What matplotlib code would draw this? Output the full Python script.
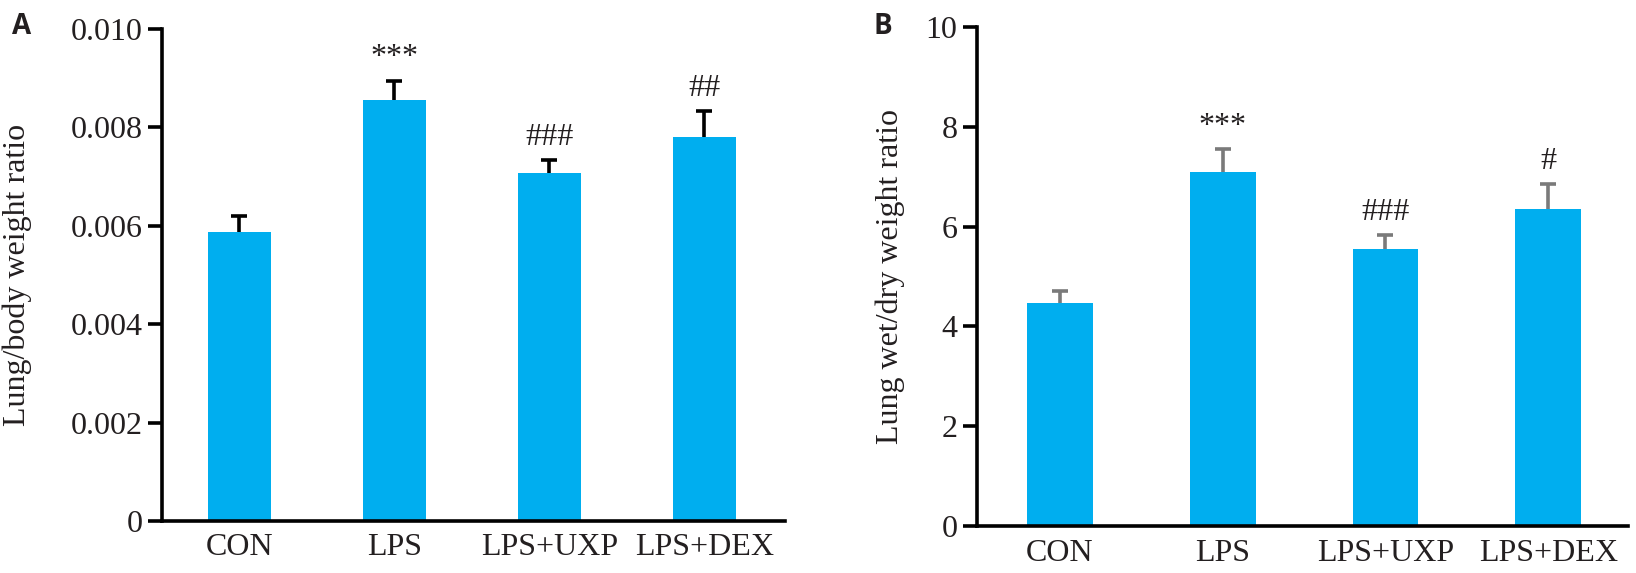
import matplotlib
matplotlib.use("Agg")
import matplotlib.pyplot as plt
import numpy as np

# data
groups = ["CON", "LPS", "LPS+UXP", "LPS+DEX"]

lung_body = [0.00587, 0.00856, 0.00707, 0.00781]
lung_body_err = [0.00032, 0.00039, 0.00027, 0.00052]
lung_body_sig = ["", "***", "###", "##"]

wet_dry = [4.47, 7.09, 5.55, 6.35]
wet_dry_err = [0.24, 0.46, 0.28, 0.50]
wet_dry_sig = ["", "***", "###", "#"]

a_ticks = [0, 0.002, 0.004, 0.006, 0.008, 0.010]
a_ticklabels = ["0", "0.002", "0.004", "0.006", "0.008", "0.010"]
b_ticks = [0, 2, 4, 6, 8, 10]

BAR = "#00aeef"
TXT = "#231f20"
SERIF = ["Liberation Serif", "DejaVu Serif"]
FS = 23

fig = plt.figure(figsize=(16.36, 5.73), dpi=100)
axA = fig.add_axes([0.0990, 0.0908, 0.3808, 0.8586])
axB = fig.add_axes([0.5972, 0.0820, 0.3979, 0.8709])


def panel(ax, vals, errs, sig, errcolor, ylim, width, xlim):
    x = np.arange(len(groups))
    ax.bar(x, vals, width=width, color=BAR, zorder=2)
    lower = np.zeros(len(vals))
    _, caps, _ = ax.errorbar(x, vals, yerr=[lower, errs], fmt="none", ecolor=errcolor,
                             elinewidth=2.6, capsize=5.5, capthick=2.6, zorder=1)
    caps[0].set_visible(False)  # only the upper cap
    for xi, v, e, s in zip(x, vals, errs, sig):
        if s:
            ax.annotate(s, (xi, v + e), xytext=(0, 6), textcoords="offset points",
                        ha="center", va="bottom", fontsize=FS, family=SERIF,
                        color=TXT)
    ax.set_xlim(*xlim)
    ax.set_ylim(*ylim)
    ax.set_xticks(x)
    ax.set_xticklabels(groups, family=SERIF, fontsize=FS, color=TXT)
    for sp in ["top", "right"]:
        ax.spines[sp].set_visible(False)
    for sp in ["left", "bottom"]:
        ax.spines[sp].set_linewidth(2.6)
        ax.spines[sp].set_color("black")
    ax.tick_params(axis="x", length=0, pad=9)
    ax.tick_params(axis="y", length=10, width=2.6, pad=4, direction="out")


panel(axA, lung_body, lung_body_err, lung_body_sig, "black", (0, 0.010), 0.41, (-0.5, 3.52))
axA.set_yticks(a_ticks)
axA.set_yticklabels(a_ticklabels, family=SERIF, fontsize=FS, color=TXT)
axA.set_ylabel("Lung/body weight ratio", family=SERIF, fontsize=FS, color=TXT)
axA.yaxis.set_label_coords(-0.208, 0.5)

panel(axB, wet_dry, wet_dry_err, wet_dry_sig, "#7a7a7a", (0, 10), 0.405, (-0.51, 3.49))
axB.set_yticks(b_ticks)
axB.set_yticklabels([str(t) for t in b_ticks], family=SERIF, fontsize=FS, color=TXT)
axB.set_ylabel("Lung wet/dry weight ratio", family=SERIF, fontsize=FS, color=TXT)
axB.yaxis.set_label_coords(-0.111, 0.5)

fig.text(12 / 1636, 1 - 12 / 573, "A", family=["Open Sans", "DejaVu Sans"],
         fontweight="bold", fontsize=20, va="top", ha="left", color=TXT)
fig.text(873 / 1636, 1 - 12 / 573, "B", family=["Open Sans", "DejaVu Sans"],
         fontweight="bold", fontsize=20, va="top", ha="left", color=TXT)

fig.savefig("out.png", dpi=100)
